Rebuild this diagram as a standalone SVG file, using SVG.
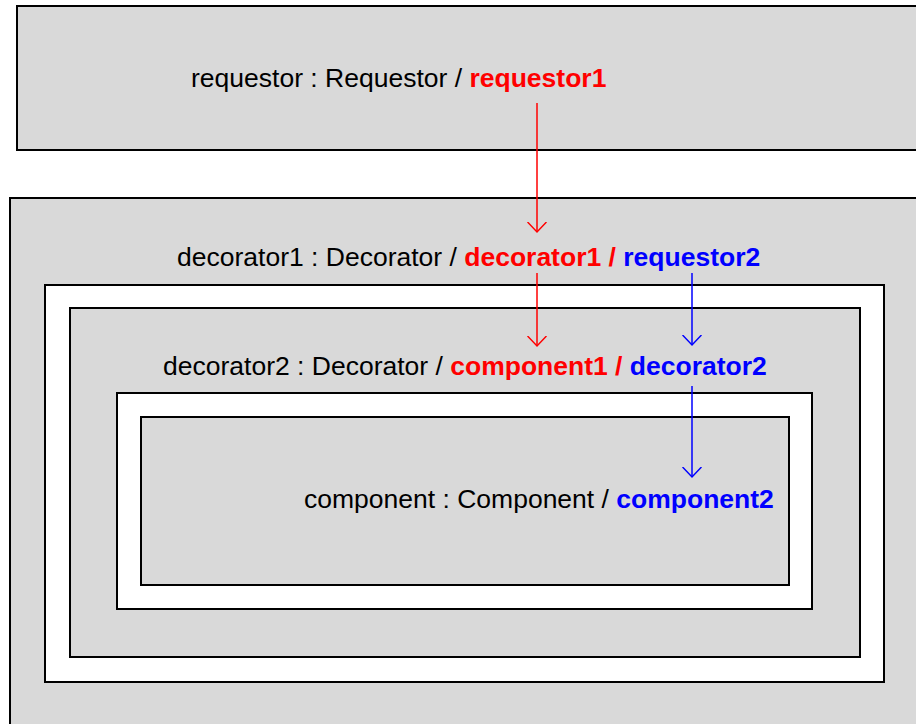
<svg xmlns="http://www.w3.org/2000/svg" width="916" height="724" viewBox="0 0 916 724">
<style>
.box{fill:#d9d9d9;stroke:#000;stroke-width:2}
.frame{fill:#fff;stroke:#000;stroke-width:2}
text{font-family:"Liberation Sans",Arial,sans-serif;font-size:26.5px;fill:#000}
.b{font-weight:bold}
.r{fill:#ff0000}
.bl{fill:#0000ff}
.ar{fill:none;stroke-width:1.5}
</style>
<defs>
<marker id="hr" markerWidth="20" markerHeight="20" refX="10" refY="10" orient="auto" markerUnits="userSpaceOnUse"><path d="M0,0.5 L10,10 L0,19.5" fill="none" stroke="#ff0000" stroke-width="1.5"/></marker>
<marker id="hb" markerWidth="20" markerHeight="20" refX="10" refY="10" orient="auto" markerUnits="userSpaceOnUse"><path d="M0,0.5 L10,10 L0,19.5" fill="none" stroke="#0000ff" stroke-width="1.5"/></marker>
</defs>
<rect width="916" height="724" fill="#fff"/>
<g id="requestor">
<rect class="box" x="17" y="6" width="910" height="144"/>
<text x="191" y="87">requestor : Requestor / <tspan class="b r">requestor1</tspan></text>
</g>
<g id="decorator1">
<rect class="box" x="10" y="198" width="920" height="540"/>
<rect class="frame" x="45" y="285" width="839" height="397"/>
<text x="177" y="266">decorator1 : Decorator / <tspan class="b r">decorator1 / </tspan><tspan class="b bl">requestor2</tspan></text>
</g>
<g id="decorator2">
<rect class="box" x="70" y="308" width="790" height="349"/>
<rect class="frame" x="117" y="393" width="695" height="216"/>
<text x="163" y="375">decorator2 : Decorator / <tspan class="b r">component1 / </tspan><tspan class="b bl">decorator2</tspan></text>
</g>
<g id="component">
<rect class="box" x="141" y="417" width="648" height="168"/>
<text x="304" y="508">component : Component / <tspan class="b bl">component2</tspan></text>
</g>
<g id="connectors">
<line class="ar" x1="537" y1="103" x2="537" y2="232" stroke="#ff0000" marker-end="url(#hr)"/>
<line class="ar" x1="537" y1="273" x2="537" y2="346" stroke="#ff0000" marker-end="url(#hr)"/>
<line class="ar" x1="692" y1="273" x2="692" y2="345" stroke="#0000ff" marker-end="url(#hb)"/>
<line class="ar" x1="692" y1="386" x2="692" y2="477" stroke="#0000ff" marker-end="url(#hb)"/>
</g>
</svg>
